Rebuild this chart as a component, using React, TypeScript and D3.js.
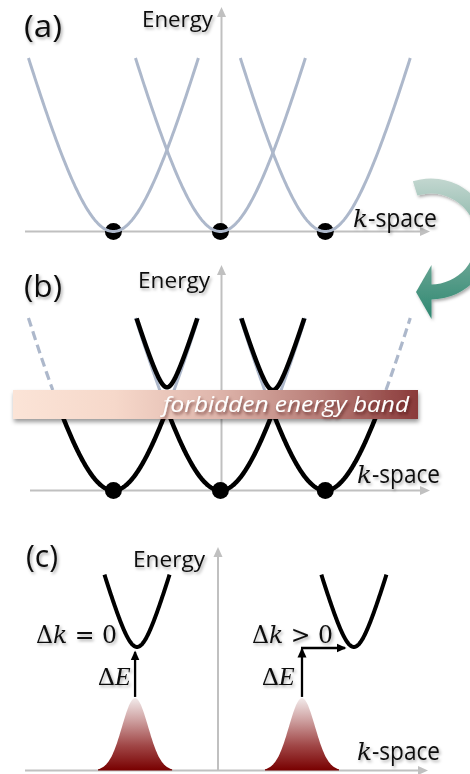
import React from "react";
import * as d3 from "d3";

const W = 470;
const H = 774;

// ---- band-structure data (k in lattice units, E normalised so the drawn top is 1) ----
// valley minima of the three conduction valleys, panels (a) and (b)
const valleyK = [-1.01, -0.01, 0.97];
// non-parabolicity of each valley: E(dk) ∝ sqrt(c² + dk²) − c
const bandC = 0.514;
const kTop = 0.794; // |dk| at which E reaches 1
// coupling that opens the gap at the zone-boundary crossings in (b)
const gapV = 0.128;
// forbidden energy band in (b)
const forbiddenBand = [0.4145, 0.5826];

// panel (c): valence maxima (holes) and conduction minima
const holeK = [-0.775, 0.785];
const holePeakE = 0.418;
const holeSigma = 0.1215;
const condK = [-0.757, 1.27];
const condMinE = 0.712;
const condC = 0.14;
const condA = 2.14;
const condHalfWidth = 0.304;
// transitions: vertical photon step, then the momentum step of the indirect gap
const photonFromE = 0.424;
const directTopE = 0.683;
const indirectTopE = 0.706;
const indirectEndK = 1.187;

const labels = {
  a: "(a)",
  b: "(b)",
  c: "(c)",
  energy: "Energy",
  space: "-space",
  band: "forbidden energy band",
};

// ---- scales ----
const kScaleAB = d3.scaleLinear().domain([0, 1]).range([221.5, 328.5]);
const kScaleC = d3.scaleLinear().domain([0, 1]).range([218, 325]);
const eScaleA = d3.scaleLinear().domain([0, 1]).range([231.5, 58]);
const eScaleB = d3.scaleLinear().domain([0, 1]).range([490.5, 318]);
const eScaleC = d3.scaleLinear().domain([0, 1]).range([770.5, 597]);

const bandNorm = Math.sqrt(bandC * bandC + kTop * kTop) - bandC;
const disp = (dk: number) => (Math.sqrt(bandC * bandC + dk * dk) - bandC) / bandNorm;
const dispInv = (e: number) => {
  const s = e * bandNorm + bandC;
  return Math.sqrt(s * s - bandC * bandC);
};

type P = { k: number; e: number };
const sample = (k0: number, k1: number, f: (k: number) => number, n = 160): P[] =>
  d3.range(n + 1).map((i) => {
    const k = k0 + ((k1 - k0) * i) / n;
    return { k, e: f(k) };
  });

const lineFor = (kx: d3.ScaleLinear<number, number>, ey: d3.ScaleLinear<number, number>) =>
  d3
    .line<P>()
    .x((d) => kx(d.k))
    .y((d) => ey(d.e))
    .curve(d3.curveLinear);

const lineA = lineFor(kScaleAB, eScaleA);
const lineB = lineFor(kScaleAB, eScaleB);
const lineC = lineFor(kScaleC, eScaleC);

const GRAY = "#adb8cb";
const AXIS = "#c0c0c0";
const SANS = "'Open Sans', 'Noto Sans', sans-serif";
const MATH = "'DejaVu Serif', 'Liberation Serif', serif";
const SERIF = "'Liberation Serif', 'DejaVu Serif', serif";

function Axes({
  x0,
  x1,
  yBase,
  yAxisX,
  yTop,
}: {
  x0: number;
  x1: number;
  yBase: number;
  yAxisX: number;
  yTop: number;
}) {
  return (
    <g>
      <line x1={x0} y1={yBase} x2={x1 - 8} y2={yBase} stroke={AXIS} strokeWidth={2} />
      <path d={`M${x1},${yBase} L${x1 - 10},${yBase - 4.5} L${x1 - 10},${yBase + 4.5} Z`} fill={AXIS} />
      <line x1={yAxisX} y1={yBase} x2={yAxisX} y2={yTop + 8} stroke={AXIS} strokeWidth={2} />
      <path d={`M${yAxisX},${yTop} L${yAxisX - 4.5},${yTop + 10} L${yAxisX + 4.5},${yTop + 10} Z`} fill={AXIS} />
    </g>
  );
}

function KSpace({ x, y, kLen, sLen }: { x: number; y: number; kLen: number; sLen: number }) {
  return (
    <g filter="url(#txtShadow)" fill="#111">
      <text x={x} y={y} fontFamily={MATH} fontStyle="italic" fontSize={24} textLength={kLen} lengthAdjust="spacingAndGlyphs">
        k
      </text>
      <text x={x + kLen} y={y} fontFamily={SANS} fontSize={25} textLength={sLen} lengthAdjust="spacingAndGlyphs">
        {labels.space}
      </text>
    </g>
  );
}

function Label({ x, y, text, size, len }: { x: number; y: number; text: string; size: number; len: number }) {
  return (
    <text
      x={x}
      y={y}
      fontFamily={SANS}
      fontSize={size}
      textLength={len}
      lengthAdjust="spacingAndGlyphs"
      fill="#111"
      filter="url(#txtShadow)"
    >
      {text}
    </text>
  );
}

// annular sector in absolute coordinates (angles clockwise from 12 o'clock)
function ringSector(cx: number, cy: number, ri: number, ro: number, a0: number, a1: number) {
  const pt = (r: number, a: number) => [cx + r * Math.sin(a), cy - r * Math.cos(a)];
  const large = a1 - a0 > Math.PI ? 1 : 0;
  const [ox0, oy0] = pt(ro, a0);
  const [ox1, oy1] = pt(ro, a1);
  const [ix1, iy1] = pt(ri, a1);
  const [ix0, iy0] = pt(ri, a0);
  return `M${ox0},${oy0} A${ro},${ro} 0 ${large} 1 ${ox1},${oy1} L${ix1},${iy1} A${ri},${ri} 0 ${large} 0 ${ix0},${iy0} Z`;
}

export default function App() {
  // ---------- panel (a): free-electron-like valleys ----------
  const curvesA = valleyK.map((v) => sample(v - kTop, v + kTop, (k) => disp(k - v)));

  // ---------- panel (b): gapped bands ----------
  const grayInner = [
    sample(valleyK[0], valleyK[0] + kTop, (k) => disp(k - valleyK[0])),
    sample(valleyK[1] - kTop, valleyK[1] + kTop, (k) => disp(k - valleyK[1])),
    sample(valleyK[2] - kTop, valleyK[2], (k) => disp(k - valleyK[2])),
  ];
  const kBandTop = dispInv(forbiddenBand[1]);
  const grayDashed = [
    sample(valleyK[0] - kTop, valleyK[0] - kBandTop, (k) => disp(k - valleyK[0]), 40),
    sample(valleyK[2] + kBandTop, valleyK[2] + kTop, (k) => disp(k - valleyK[2]), 40),
  ];
  const kBandMid = dispInv((forbiddenBand[0] + forbiddenBand[1]) / 2);
  const lowerB = sample(
    valleyK[0] - kBandMid,
    valleyK[2] + kBandMid,
    (k) => d3.min(valleyK, (v) => disp(k - v)) as number,
    600
  );
  const upperB = d3.range(valleyK.length - 1).map((i) => {
    const a = valleyK[i];
    const b = valleyK[i + 1];
    const pts = sample(a + 0.05, b - 0.05, (k) => {
      const e1 = disp(k - a);
      const e2 = disp(k - b);
      return (e1 + e2) / 2 + Math.sqrt(((e1 - e2) / 2) ** 2 + gapV * gapV);
    }, 800);
    return pts.filter((p) => p.e <= 1);
  });

  // ---------- panel (c): direct vs indirect transition ----------
  const condCurves = condK.map((v) =>
    sample(v - condHalfWidth, v + condHalfWidth, (k) =>
      condMinE + condA * (Math.sqrt(condC * condC + (k - v) ** 2) - condC)
    )
  );
  const holeArea = d3
    .area<P>()
    .x((d) => kScaleC(d.k))
    .y0(eScaleC(0))
    .y1((d) => eScaleC(d.e))
    .curve(d3.curveBasis);
  const holes = holeK.map((h) =>
    sample(h - 2.85 * holeSigma, h + 2.85 * holeSigma, (k) =>
      holePeakE * Math.exp(-((k - h) ** 2) / (2 * holeSigma * holeSigma))
    , 80)
  );

  // ---------- green curved arrow linking (a) to (b) ----------
  const arcCx = 431;
  const arcCy = 239;
  const arcR = 53;
  const arcHalf = 7.5;
  const arcPath = ringSector(arcCx, arcCy, arcR - arcHalf, arcR + arcHalf, -0.304, Math.PI);
  const headPath = `M${arcCx + 0.5},${arcCy + arcR - 27} L${arcCx + 0.5},${arcCy + arcR + 27} L${arcCx - 15},${arcCy + arcR} Z`;

  const bandY0 = eScaleB(forbiddenBand[1]);
  const bandY1 = eScaleB(forbiddenBand[0]);

  const hx0 = kScaleC(holeK[0]);
  const hx1 = kScaleC(holeK[1]);
  const yFrom = eScaleC(photonFromE);

  return (
    <svg width={W} height={H} style={{ position: "absolute", left: 0, top: 0, background: "#fff" }}>
      <defs>
        <filter id="txtShadow" x="-20%" y="-30%" width="140%" height="170%">
          <feDropShadow dx={1.5} dy={2} stdDeviation={1.4} floodColor="#000" floodOpacity={0.33} />
        </filter>
        <filter id="bandShadow" x="-5%" y="-30%" width="110%" height="180%">
          <feDropShadow dx={1} dy={3} stdDeviation={2} floodColor="#000" floodOpacity={0.4} />
        </filter>
        <filter id="whiteTxtShadow" x="-10%" y="-40%" width="120%" height="190%">
          <feDropShadow dx={1.5} dy={2.5} stdDeviation={1.5} floodColor="#3a1010" floodOpacity={0.6} />
        </filter>
        <linearGradient id="bandGrad" x1="0" y1="0" x2="1" y2="0">
          <stop offset="0" stopColor="#fbe4d7" />
          <stop offset="0.25" stopColor="#f6d8ca" />
          <stop offset="0.5" stopColor="#dfb6ac" />
          <stop offset="0.75" stopColor="#ba807a" />
          <stop offset="1" stopColor="#8a3a3a" />
        </linearGradient>
        <linearGradient id="holeGrad" x1="0" y1="0" x2="0" y2="1">
          <stop offset="0" stopColor="#f2eaea" />
          <stop offset="0.3" stopColor="#cfa2a2" />
          <stop offset="0.65" stopColor="#a14848" />
          <stop offset="1" stopColor="#780000" />
        </linearGradient>
        <linearGradient id="arrowGrad" gradientUnits="userSpaceOnUse" x1="0" y1="178" x2="0" y2="320">
          <stop offset="0" stopColor="#c3d7d0" />
          <stop offset="0.45" stopColor="#7cae9f" />
          <stop offset="1" stopColor="#2d8770" />
        </linearGradient>
        <marker id="ah" viewBox="0 0 10 10" refX="8.5" refY="5" markerWidth="10" markerHeight="10" markerUnits="userSpaceOnUse" orient="auto">
          <path d="M0,0.5 L10,5 L0,9.5 Z" fill="#000" />
        </marker>
      </defs>

      {/* ---------------- (a) ---------------- */}
      <Axes x0={25} x1={430} yBase={eScaleA(0)} yAxisX={kScaleAB(0)} yTop={7} />
      {valleyK.map((v, i) => (
        <circle key={`da${i}`} cx={kScaleAB(v)} cy={eScaleA(0)} r={8.5} fill="#000" />
      ))}
      {curvesA.map((c, i) => (
        <path key={`ca${i}`} d={lineA(c) as string} fill="none" stroke={GRAY} strokeWidth={3} />
      ))}
      <Label x={24} y={37} text={labels.a} size={31} len={38} />
      <Label x={142} y={27} text={labels.energy} size={21} len={71} />
      <KSpace x={353} y={227} kLen={15} sLen={69} />

      {/* curved arrow */}
      <g filter="url(#txtShadow)">
        <path d={arcPath} fill="url(#arrowGrad)" />
        <path d={headPath} fill="url(#arrowGrad)" />
      </g>

      {/* ---------------- (b) ---------------- */}
      <Axes x0={30} x1={430} yBase={eScaleB(0)} yAxisX={kScaleAB(0)} yTop={265} />
      {grayInner.map((c, i) => (
        <path key={`gb${i}`} d={lineB(c) as string} fill="none" stroke={GRAY} strokeWidth={3} />
      ))}
      {grayDashed.map((c, i) => (
        <path key={`gd${i}`} d={lineB(c) as string} fill="none" stroke={GRAY} strokeWidth={3.2} strokeDasharray="9 5" />
      ))}
      <path d={lineB(lowerB) as string} fill="none" stroke="#000" strokeWidth={4.5} strokeLinejoin="round" />
      {upperB.map((c, i) => (
        <path key={`ub${i}`} d={lineB(c) as string} fill="none" stroke="#000" strokeWidth={4.5} />
      ))}
      {valleyK.map((v, i) => (
        <circle key={`db${i}`} cx={kScaleAB(v)} cy={eScaleB(0)} r={8.5} fill="#000" />
      ))}
      <rect x={13} y={bandY0} width={405} height={bandY1 - bandY0} fill="url(#bandGrad)" filter="url(#bandShadow)" />
      <text
        x={163}
        y={412}
        fontFamily={SANS}
        fontStyle="italic"
        fontSize={22}
        fill="#fff"
        textLength={246}
        lengthAdjust="spacingAndGlyphs"
        filter="url(#whiteTxtShadow)"
      >
        {labels.band}
      </text>
      <Label x={24} y={297} text={labels.b} size={31} len={38} />
      <Label x={138} y={288} text={labels.energy} size={21} len={72} />
      <KSpace x={357} y={483} kLen={15} sLen={68} />

      {/* ---------------- (c) ---------------- */}
      <Axes x0={25} x1={428} yBase={eScaleC(0)} yAxisX={kScaleC(0)} yTop={547} />
      {holes.map((h, i) => (
        <path key={`h${i}`} d={holeArea(h) as string} fill="url(#holeGrad)" />
      ))}
      {condCurves.map((c, i) => (
        <path key={`cc${i}`} d={lineC(c) as string} fill="none" stroke="#000" strokeWidth={4} />
      ))}
      <line x1={hx0} y1={yFrom} x2={hx0} y2={eScaleC(directTopE)} stroke="#000" strokeWidth={2.3} markerEnd="url(#ah)" />
      <line x1={hx1} y1={yFrom} x2={hx1} y2={eScaleC(indirectTopE) + 1} stroke="#000" strokeWidth={2.3} markerEnd="url(#ah)" />
      <line
        x1={hx1 - 1}
        y1={eScaleC(indirectTopE)}
        x2={kScaleC(indirectEndK)}
        y2={eScaleC(indirectTopE)}
        stroke="#000"
        strokeWidth={2.3}
        markerEnd="url(#ah)"
      />
      <g filter="url(#txtShadow)" fill="#111">
        <text x={36} y={643} fontFamily={MATH} fontSize={24} textLength={81} lengthAdjust="spacingAndGlyphs">
          Δ<tspan fontStyle="italic">k</tspan> = 0
        </text>
        <text x={252} y={643} fontFamily={MATH} fontSize={24} textLength={81} lengthAdjust="spacingAndGlyphs">
          Δ<tspan fontStyle="italic">k</tspan> &gt; 0
        </text>
        <text x={98} y={685} fontFamily={SERIF} fontSize={26}>
          Δ<tspan fontStyle="italic">E</tspan>
        </text>
        <text x={262} y={685} fontFamily={SERIF} fontSize={26}>
          Δ<tspan fontStyle="italic">E</tspan>
        </text>
      </g>
      <Label x={26} y={567} text={labels.c} size={31} len={32} />
      <Label x={133} y={567} text={labels.energy} size={21} len={72} />
      <KSpace x={357} y={760} kLen={15} sLen={68} />
    </svg>
  );
}
